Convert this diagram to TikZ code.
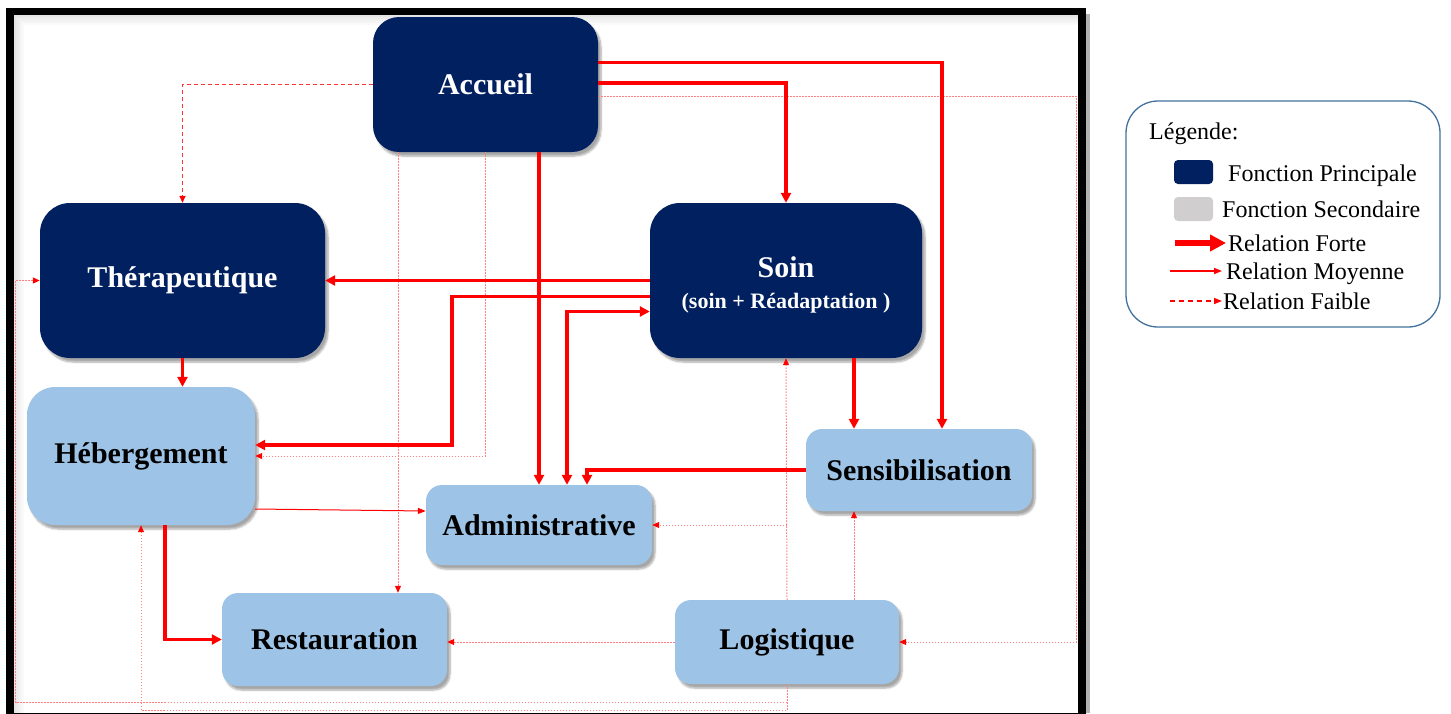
\documentclass[tikz,border=0pt]{standalone}
\usepackage{fontspec}
\setmainfont{Liberation Serif}
\usetikzlibrary{arrows.meta,shadows.blur}
\definecolor{navy}{HTML}{002060}
\definecolor{sky}{HTML}{9DC3E6}
\definecolor{legline}{HTML}{41719C}
\definecolor{greybox}{HTML}{D0CECE}
\begin{document}
\begin{tikzpicture}[x=1pt,y=-1pt,
  tipF/.tip={Triangle[length=10pt,width=10pt]},
  tipM/.tip={Triangle[length=8pt,width=6pt]},
  tipW/.tip={Triangle[length=7pt,width=6pt,red]},
  boxshadow/.style={blur shadow={shadow xshift=3pt,shadow yshift=-4pt,shadow blur steps=6,shadow opacity=35}},
  principal/.style={fill=navy,text=white,font=\bfseries\fontsize{30}{32}\selectfont,
    align=center,inner sep=0pt,boxshadow},
  secondaire/.style={fill=sky,text=black,font=\bfseries\fontsize{30}{32}\selectfont,
    align=center,inner sep=0pt,boxshadow},
  forte/.style={draw=red,line width=3.5pt,-tipF},
  moyenne/.style={draw=red,line width=1pt,-tipM},
  faible/.style={draw=red!50,line width=1pt,dash pattern=on 1.5pt off 1.5pt,-tipW},
  faiblenet/.style={draw=red!80,line width=1.4pt,dash pattern=on 4pt off 3pt,-tipW},
  legtext/.style={anchor=base west,inner sep=0pt,font=\fontsize{24}{26}\selectfont},
]
\useasboundingbox (0,0) rectangle (1451,713);

% frame with its soft shadows
\foreach \d/\o in {1/0.10,3/0.08,5/0.06,7/0.04,9/0.02}
  \draw[black,opacity=\o,line width=2pt] (14+\d,713) |- (1078,15+\d);
\fill[black!30] (1085.5,14) rectangle (1090,713);
\draw[line width=7.5pt] (10,11.5) rectangle (1082,716.5);

% main functions
\node[principal,minimum width=225pt,minimum height=135pt,rounded corners=26pt] (acc) at (485.5,84.5) {Accueil};
\node[principal,minimum width=285pt,minimum height=155pt,rounded corners=30pt] (ther) at (182.5,280.5) {Thérapeutique};
\node[principal,minimum width=272pt,minimum height=155pt,rounded corners=30pt] (soin) at (786,280.5) {};
\node[text=white,font=\bfseries\fontsize{30}{32}\selectfont,align=center,inner sep=0pt] (sointxt)
  at ([yshift=-4pt]soin.center) {Soin\\[-1pt]{\fontsize{22}{26}\selectfont (soin + Réadaptation )}};

% secondary functions
\node[secondaire,minimum width=228pt,minimum height=138pt,rounded corners=28pt] (heb) at (141,456) {Hébergement};
\node[secondaire,minimum width=226pt,minimum height=80pt,rounded corners=16pt] (adm) at (539,525) {Administrative};
\node[secondaire,minimum width=226pt,minimum height=82pt,rounded corners=16pt] (sens) at (919,470) {Sensibilisation};
\node[secondaire,minimum width=225pt,minimum height=93pt,rounded corners=16pt] (rest) at (334.5,639.5) {Restauration};
\node[secondaire,minimum width=224pt,minimum height=84pt,rounded corners=16pt] (logi) at (787,642) {Logistique};

% weak relations
\draw[faiblenet] (acc.west) -| (ther.north);
\draw[faible] ([xshift=-87.5pt]acc.south) -- ([xshift=-87.5pt]acc.south |- rest.north);
\draw[faible] (acc.south) |- (heb.east);
\draw[faible] ([yshift=-11.5pt]acc.east) -- ++(478,0) |- (logi.east);
\draw[faible] (logi.west) -- (logi.west -| rest.east);
\draw[faible] ([xshift=67pt]logi.north) -- ([xshift=67pt]logi.north |- sens.south);
\draw[faible] (logi.north) -- (soin.south);
\draw[faible] (logi.north |- adm.east) -- (adm.east);
\draw[faible] (logi.south) -- ++(0,18) -- ++(-771.5,0) |- (ther.west);
\draw[faible] (logi.south) -- ++(0,26) -| (heb.south);

% medium relation
\draw[moyenne] ([yshift=-53pt]heb.east) -- ([yshift=14pt]adm.west);

% strong relations
\draw[forte] ([yshift=22pt]acc.east) -| ([xshift=23pt]sens.north);
\draw[forte] ([yshift=1.5pt]acc.east) -| (soin.north);
\draw[forte] (acc.south -| adm.north) -- (adm.north);
\draw[forte] (soin.west) -- (ther.east);
\draw[forte] ([yshift=-16pt]soin.west) -- ++(-198,0) |- ([yshift=11pt]heb.east);
\draw[forte,tipF-tipF] ([xshift=28pt]adm.north) |- ([yshift=-31pt]soin.west);
\draw[forte] (sens.west) -| ([xshift=48pt]adm.north);
\draw[forte] ([xshift=68pt]soin.south) -- ([xshift=68pt]soin.south |- sens.north);
\draw[forte] (ther.south) -- (ther.south |- heb.north);
\draw[forte] ([xshift=24pt]heb.south) |- (rest.west);

% legend
\node[draw=legline,line width=1.3pt,rounded corners=32pt,minimum width=314pt,minimum height=226pt] (leg) at (1283,214) {};
\node[legtext] (lt) at (1149,139) {Légende:};
\node[fill=navy,rounded corners=4pt,minimum width=39pt,minimum height=24pt,inner sep=0pt] (sqp) at (1193.5,172) {};
\node[legtext] (lp) at (1228,181) {Fonction Principale};
\node[fill=greybox,rounded corners=4pt,minimum width=39pt,minimum height=24pt,inner sep=0pt] (sqs) at (1193.5,209) {};
\node[legtext] (ls) at (1222,217) {Fonction Secondaire};
\node[legtext] (lf) at (1228,251) {Relation Forte};
\node[legtext] (lm) at (1226,279) {Relation Moyenne};
\node[legtext] (lw) at (1223,309) {Relation Faible};
\draw[red,line width=6pt,-{Triangle[length=16pt,width=16pt]}] ([xshift=-53pt,yshift=8pt]lf.base west) -- ([xshift=-2pt,yshift=8pt]lf.base west);
\draw[red,line width=1.5pt,-{Triangle[length=8pt,width=6pt]}] ([xshift=-56pt,yshift=8pt]lm.base west) -- ([xshift=-4pt,yshift=8pt]lm.base west);
\draw[red,line width=1.5pt,dash pattern=on 5pt off 4pt,-{Triangle[length=8pt,width=6pt]}] ([xshift=-53pt,yshift=8pt]lw.base west) -- ([xshift=-1pt,yshift=8pt]lw.base west);
\end{tikzpicture}
\end{document}
